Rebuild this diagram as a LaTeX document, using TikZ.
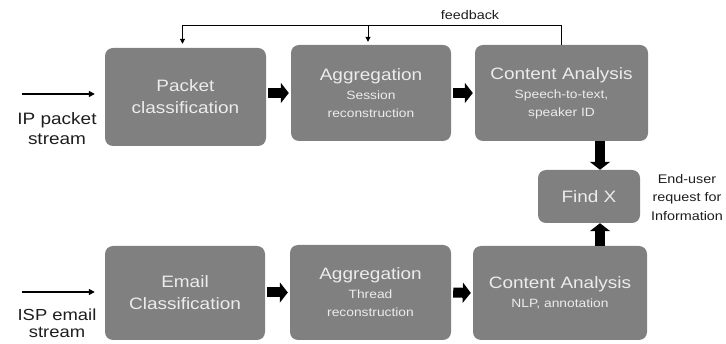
\documentclass[tikz,border=0pt]{standalone}
\usepackage{fontspec}
\setmainfont{Liberation Sans}
\newfontfamily\dfont[FakeStretch=1.15]{Liberation Sans}
\usetikzlibrary{arrows.meta,calc}
\definecolor{boxgray}{RGB}{128,128,128}
\definecolor{boxtext}{RGB}{236,236,236}
\definecolor{lbltext}{RGB}{30,30,30}
\newcommand{\mainsz}{\fontsize{16.5}{22}\selectfont}
\newcommand{\subsz}{\fontsize{12}{18}\selectfont}
\newcommand{\lblsz}{\fontsize{16.5}{20}\selectfont}
\newcommand{\tightsz}{\fontsize{16}{16.5}\selectfont}
\newcommand{\smlsz}{\fontsize{12.5}{18.5}\selectfont}
\begin{document}
\begin{tikzpicture}[x=1pt,y=-1pt,
  box/.style={fill=boxgray, rounded corners=8pt, text=boxtext, align=center, inner sep=0pt, font=\dfont\subsz},
  bigbox/.style={box, font=\dfont\mainsz},
  bigarrow/.style={line width=10pt, -{Triangle[width=20pt,length=8pt]}, black},
  inarrow/.style={line width=1.8pt, -{Triangle[width=6pt,length=6pt]}, black},
  fbarrow/.style={line width=0.9pt, -{Triangle[width=5pt,length=5pt]}, black},
  lbl/.style={align=center, text=lbltext, inner sep=0pt, font=\dfont\lblsz},
  sml/.style={align=center, text=lbltext, inner sep=0pt, font=\dfont\smlsz}]
\useasboundingbox (0,0) rectangle (726,344);
\fill[white] (0,0) rectangle (726,344);

% top row
\node[bigbox, minimum width=161pt, minimum height=98pt] (pc) at (185.5,97) {Packet\\classification};
\node[box, minimum width=160pt, minimum height=96pt] (ag1) at (371,93) {{\mainsz Aggregation}\\[1pt]Session\\reconstruction};
\node[box, minimum width=173pt, minimum height=96pt] (ca1) at (561.5,93) {{\mainsz Content Analysis}\\[1pt]Speech-to-text,\\speaker ID};

% find X
\node[bigbox, minimum width=102pt, minimum height=53pt] (fx) at (589,196.5) {Find X};

% bottom row
\node[bigbox, minimum width=160pt, minimum height=94pt] (ec) at (185,293) {Email\\Classification};
\node[box, minimum width=161pt, minimum height=95pt] (ag2) at (370.5,292.5) {{\mainsz Aggregation}\\[1pt]Thread\\reconstruction};
\node[box, minimum width=174pt, minimum height=94pt] (ca2) at (560,293) {{\mainsz Content Analysis}\\[1pt]NLP, annotation};

% labels
\node[lbl, anchor=north] (ipl) at (57,112) {IP packet\\stream};
\node[lbl, anchor=north, font=\dfont\tightsz] (ispl) at (57,309) {ISP email\\stream};
\node[sml, anchor=north] (eul) at (687,174) {End-user\\request for\\Information};
\node[sml, anchor=base] (fbl) at (470,20) {feedback};

% input arrows
\coordinate (in1) at (22,94);
\coordinate (in2) at (22,292);
\draw[inarrow, shorten >=10pt] (in1) -- (in1 -| pc.west);
\draw[inarrow, shorten >=10pt] (in2) -- (in2 -| ec.west);

% thick arrows
\draw[bigarrow, shorten <=2pt, shorten >=2pt] (pc.east |- ag1.west) -- (ag1.west);
\draw[bigarrow, shorten <=2pt, shorten >=2pt] (ag1.east) -- (ca1.west);
\draw[bigarrow, shorten <=2pt, shorten >=2pt] (ec.east |- ag2.west) -- (ag2.west);
\draw[bigarrow, shorten <=2pt, shorten >=2pt] (ag2.east) -- (ca2.west);
\draw[bigarrow] ([xshift=11pt]fx.north |- ca1.south) -- ([xshift=11pt]fx.north);
\draw[bigarrow] ([xshift=11pt]fx.south |- ca2.north) -- ([xshift=11pt]fx.south);

% feedback
\coordinate (fbtop) at (0,25);
\draw[fbarrow, shorten >=4pt] (ca1.north) -- (ca1.north |- fbtop) -- ([xshift=-3pt]pc.north |- fbtop) -- ([xshift=-3pt]pc.north);
\draw[fbarrow, shorten >=3pt] ([xshift=-3pt]ag1.north |- fbtop) -- ([xshift=-3pt]ag1.north);
\end{tikzpicture}
\end{document}
